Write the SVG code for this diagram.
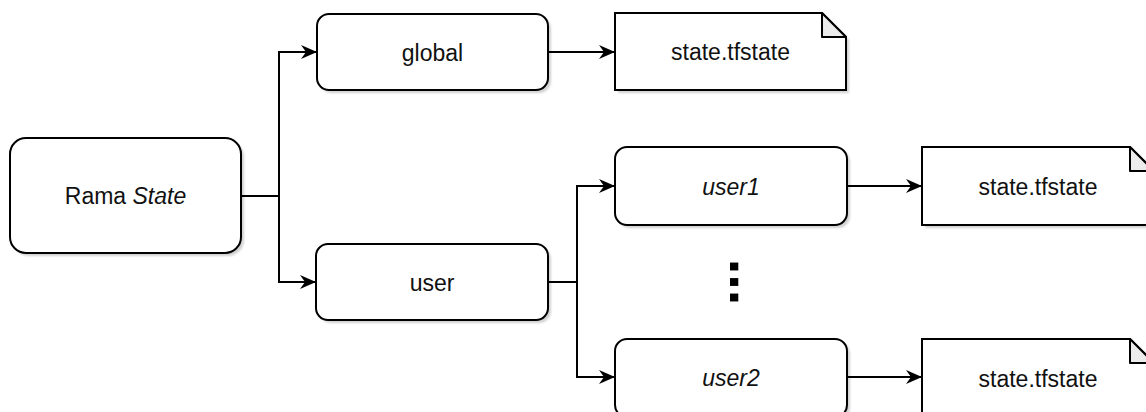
<svg xmlns="http://www.w3.org/2000/svg" width="1146" height="412" viewBox="0 0 1146 412">
<style>
.box{fill:#fff;stroke:#000;stroke-width:2}
.sh{fill:#000;opacity:0.18}
.fold{fill:#ececec;stroke:#000;stroke-width:2;stroke-linejoin:round}
.lbl{font-family:"Liberation Sans",Arial,sans-serif;font-size:23px;fill:#111;text-anchor:middle}
.it{font-style:italic}
.edge{fill:none;stroke:#000;stroke-width:2}
</style>
<defs>
<filter id="blur" x="-10%" y="-10%" width="120%" height="120%"><feGaussianBlur stdDeviation="1.2"/></filter>
<marker id="arr" viewBox="0 0 16 14" refX="15" refY="7" markerWidth="16" markerHeight="14" markerUnits="userSpaceOnUse" orient="auto">
<path d="M0,0 L16,7 L0,14 L5,7 Z" fill="#000"/>
</marker>
</defs>
<g id="edges">
<path class="edge" d="M241,196 H279 V52 H316" marker-end="url(#arr)"/>
<path class="edge" d="M279,196 V282 H315" marker-end="url(#arr)"/>
<path class="edge" d="M548,52 H614" marker-end="url(#arr)"/>
<path class="edge" d="M548,282 H577 V186 H614" marker-end="url(#arr)"/>
<path class="edge" d="M577,282 V377 H614" marker-end="url(#arr)"/>
<path class="edge" d="M847,186 H921" marker-end="url(#arr)"/>
<path class="edge" d="M847,377 H921" marker-end="url(#arr)"/>
</g>
<g id="rama">
<rect class="sh" x="13" y="141" width="231" height="115" rx="16" filter="url(#blur)"/>
<rect class="box" x="10" y="138" width="231" height="115" rx="16"/>
<text class="lbl" x="125.5" y="204">Rama <tspan class="it">State</tspan></text>
</g>
<g id="global">
<rect class="sh" x="320" y="17" width="231" height="76" rx="12" filter="url(#blur)"/>
<rect class="box" x="317" y="14" width="231" height="76" rx="12"/>
<text class="lbl" x="432.5" y="61">global</text>
</g>
<g id="user">
<rect class="sh" x="319" y="247" width="232" height="76" rx="12" filter="url(#blur)"/>
<rect class="box" x="316" y="244" width="232" height="76" rx="12"/>
<text class="lbl" x="432" y="291">user</text>
</g>
<g id="state1">
<path class="sh" d="M618,16 H825 L849,40 V93 H618 Z" filter="url(#blur)"/>
<path class="box" d="M615,13 H822 L846,37 V90 H615 Z"/>
<path class="fold" d="M822,13 V37 H846 Z"/>
<text class="lbl" x="730.5" y="60">state.tfstate</text>
</g>
<g id="user1">
<rect class="sh" x="618" y="150" width="232" height="78" rx="12" filter="url(#blur)"/>
<rect class="box" x="615" y="147" width="232" height="78" rx="12"/>
<text class="lbl it" x="731" y="195">user1</text>
</g>
<g id="state2">
<path class="sh" d="M925,150 H1133 L1157,174 V228 H925 Z" filter="url(#blur)"/>
<path class="box" d="M922,147 H1130 L1154,171 V225 H922 Z"/>
<path class="fold" d="M1130,147 V171 H1154 Z"/>
<text class="lbl" x="1038" y="195">state.tfstate</text>
</g>
<g id="dots">
<text x="733" y="282" font-family="Liberation Sans,Arial,sans-serif" font-weight="bold" font-size="56" text-anchor="middle" transform="translate(16,0) rotate(90 733 282)" dominant-baseline="central">...</text>
</g>
<g id="user2">
<rect class="sh" x="618" y="342" width="232" height="78" rx="12" filter="url(#blur)"/>
<rect class="box" x="615" y="339" width="232" height="78" rx="12"/>
<text class="lbl it" x="731" y="386">user2</text>
</g>
<g id="state3">
<path class="sh" d="M925,342 H1133 L1157,366 V420 H925 Z" filter="url(#blur)"/>
<path class="box" d="M922,339 H1130 L1154,363 V417 H922 Z"/>
<path class="fold" d="M1130,339 V363 H1154 Z"/>
<text class="lbl" x="1038" y="387">state.tfstate</text>
</g>
</svg>
